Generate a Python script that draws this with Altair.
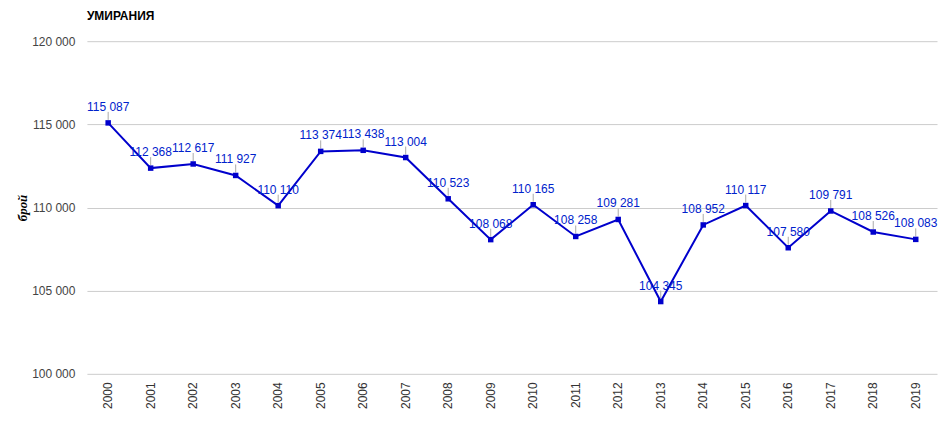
import altair as alt
import pandas as pd

years = [str(y) for y in range(2000, 2020)]
deaths = [115087, 112368, 112617, 111927, 110110, 113374, 113438, 113004, 110523, 108068,
          110165, 108258, 109281, 104345, 108952, 110117, 107580, 109791, 108526, 108083]
y_ticks = [100000, 105000, 110000, 115000, 120000]

df = pd.DataFrame({"year": years, "deaths": deaths})

FONT = "Liberation Sans"
LINE = "#0000cc"
TXT = "#0022cc"

x = alt.X("year:O", sort=None, title=None,
          axis=alt.Axis(labelAngle=270, labelFont=FONT, labelFontSize=12, labelColor="#333333",
                        labelPadding=8, ticks=False, domain=False, grid=False,
                        labelBaseline="middle", labelAlign="right"))
y = alt.Y("deaths:Q", title="брой",
          scale=alt.Scale(domain=[100000, 120000], nice=False, zero=False),
          axis=alt.Axis(values=y_ticks,
                        labelExpr="replace(format(datum.value, ','), ',', ' ')",
                        labelFont=FONT, labelFontSize=12, labelColor="#444444", labelPadding=12,
                        ticks=False, domain=False, grid=True, gridColor="#cccccc", gridWidth=1,
                        titleFont="Liberation Serif", titleFontSize=13, titleFontStyle="italic",
                        titleFontWeight="bold", titleColor="#000000", titlePadding=2))

base = alt.Chart(df).encode(x=x, y=y)

leader = alt.Chart(df).mark_rule(color="#aaaaaa", strokeWidth=1, yOffset=-3, y2Offset=-11).encode(
    x=alt.X("year:O", sort=None), y="deaths:Q", y2="deaths:Q")

line = base.mark_line(color=LINE, strokeWidth=2,
                      point=alt.OverlayMarkDef(shape="square", size=30, filled=True, color=LINE, opacity=1))

labels = base.transform_calculate(
    lbl="replace(format(datum.deaths, ','), ',', ' ')"
).mark_text(font=FONT, fontSize=12, color=TXT, baseline="alphabetic", dy=-12).encode(text="lbl:N")

chart = alt.layer(leader, line, labels).properties(
    width=851, height=333,
    title=alt.TitleParams("УМИРАНИЯ", anchor="start", frame="group", font=FONT, fontSize=12,
                          fontWeight="bold", color="#000000", offset=12),
    padding={"left": 8, "top": 2, "right": 0, "bottom": 0},
).configure_view(stroke=None)

chart.save("out.html", embed_options={"renderer": "svg", "actions": False})
